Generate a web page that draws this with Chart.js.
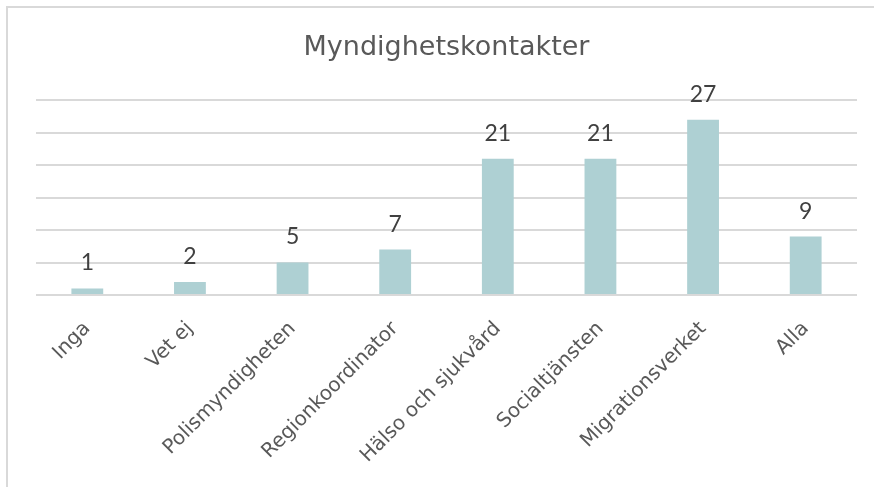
<!DOCTYPE html>
<html>
<head>
<meta charset="utf-8">
<script src="https://cdn.jsdelivr.net/npm/chart.js@4"></script>
<style>
  html, body { margin: 0; padding: 0; background: #fff; }
  #wrap { position: relative; width: 874px; height: 487px; }
  #frame { position: absolute; left: 6px; top: 6px; right: 0; bottom: 0;
           border-left: 2px solid #d9d9d9; border-top: 2px solid #d9d9d9; }
  canvas { position: absolute; left: 0; top: 0; }
</style>
</head>
<body>
<div id="wrap">
  <div id="frame"></div>
  <canvas id="myChart" width="874" height="487"></canvas>
</div>
<script>
// Kategorier och värden
const categories = ['Inga', 'Vet ej', 'Polismyndigheten', 'Regionkoordinator',
    'Hälso och sjukvård', 'Socialtjänsten', 'Migrationsverket', 'Alla'];
const values = [1, 2, 5, 7, 21, 21, 27, 9];

const FONT = '"DejaVu Sans", sans-serif';
const NUM_FONT = 'Lato, sans-serif';

// Skriver värdet ovanför varje stapel
const valueLabels = {
    id: 'valueLabels',
    afterDatasetsDraw(chart) {
        const ctx = chart.ctx;
        const meta = chart.getDatasetMeta(0);
        ctx.save();
        ctx.font = '23px ' + NUM_FONT;
        ctx.fillStyle = '#404040';
        ctx.textAlign = 'center';
        ctx.textBaseline = 'bottom';
        meta.data.forEach(function(bar, i) {
            ctx.fillText(String(values[i]), bar.x, bar.y - 14);
        });
        ctx.restore();
    }
};

const ctx = document.getElementById('myChart').getContext('2d');
new Chart(ctx, {
    type: 'bar',
    data: {
        labels: categories,
        datasets: [{
            data: values,
            backgroundColor: '#aed0d3',
            borderWidth: 0,
            categoryPercentage: 1,
            barPercentage: 0.31
        }]
    },
    options: {
        responsive: false,
        animation: false,
        layout: { padding: { top: 18, left: 36, right: 17, bottom: 0 } },
        plugins: {
            legend: { display: false },
            tooltip: { enabled: false },
            title: {
                display: true,
                text: 'Myndighetskontakter',
                color: '#595959',
                font: { family: FONT, size: 27, weight: 'normal' },
                padding: { top: 14, bottom: 36 }
            }
        },
        scales: {
            x: {
                grid: { display: false },
                border: { display: false },
                ticks: {
                    color: '#595959',
                    font: { family: FONT, size: 20 },
                    maxRotation: 45,
                    minRotation: 45,
                    padding: 14
                },
                afterFit(scale) { scale.height = 192; }
            },
            y: {
                min: 0,
                max: 30,
                ticks: { display: false, stepSize: 5 },
                border: { display: false },
                grid: { color: '#d9d9d9', lineWidth: 2, drawTicks: false }
            }
        }
    },
    plugins: [valueLabels]
});
</script>
</body>
</html>
